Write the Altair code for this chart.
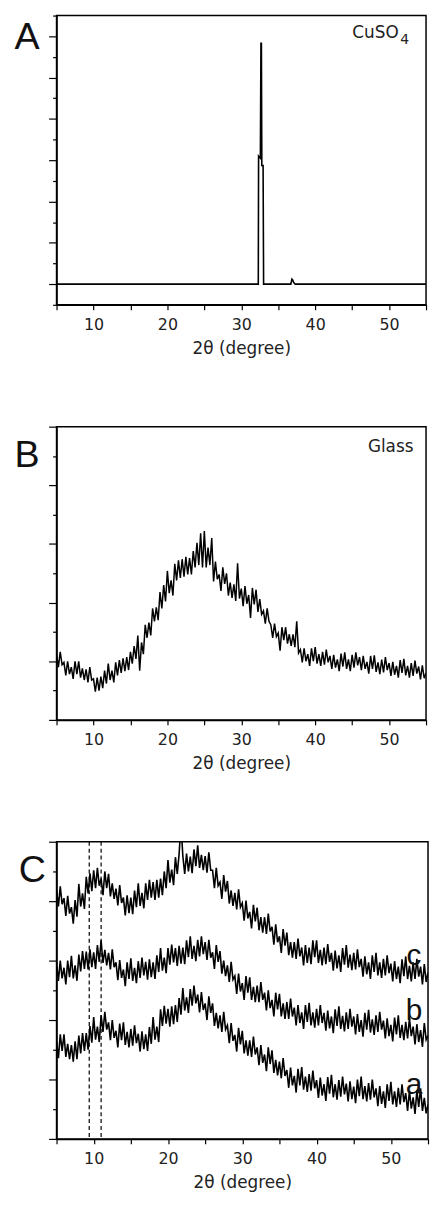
import altair as alt
import pandas as pd

# ---------------- Panel A (CuSO4) ----------------
cuso4_theta = [5.0, 32.30, 32.34, 32.58, 32.66, 32.72, 32.78, 32.95, 33.02, 33.30,
               36.70, 36.85, 36.95, 37.10, 37.30, 55.0]
cuso4_int = [0.0, 0.0, 3.10, 3.05, 5.83, 5.83, 2.87, 2.87, 0.0, 0.0,
             0.0, 0.12, 0.10, 0.04, 0.0, 0.0]

# common 2-theta grid for the scanned patterns (5..55 step 0.25)
theta_grid = [round(5 + 0.25 * i, 2) for i in range(201)]

# ---------------- Panel B (Glass) ----------------
glass = [
    1.12, 0.90, 1.16, 0.94,  0.98, 0.76, 1.00, 0.78,  0.90, 0.70, 1.00, 0.78,
    1.00, 0.72, 0.88, 0.68,  0.86, 0.64, 0.90, 0.68,  0.70, 0.48, 0.72, 0.50,
    0.74, 0.54, 0.84, 0.62,  0.96, 0.68, 0.84, 0.64,  0.98, 0.76, 1.02, 0.80,
    1.05, 0.83, 1.07, 0.85,  1.16, 0.96, 1.26, 1.04,  1.44, 0.84, 1.32, 1.12,
    1.62, 1.40, 1.66, 1.44,  1.90, 1.68, 1.92, 1.70,  2.18, 1.90, 2.30, 2.02,
    2.54, 2.16, 2.38, 2.12,  2.66, 2.38, 2.72, 2.42,  2.74, 2.44, 2.78, 2.48,
    2.76, 2.48, 2.88, 2.60,  3.02, 2.64, 3.18, 2.60,  3.22, 2.60, 2.94, 2.64,
    3.10, 2.36, 2.70, 2.40,  2.48, 2.20, 2.60, 2.32,  2.50, 2.12, 2.34, 2.08,
    2.31, 2.03, 2.67, 2.07,  2.24, 1.94, 2.28, 1.98,  2.13, 1.74, 2.25, 1.97,
    2.22, 1.84, 2.06, 1.80,  1.86, 1.64, 1.90, 1.68,  1.62, 1.40, 1.64, 1.42,
    1.48, 1.18, 1.58, 1.36,  1.58, 1.30, 1.46, 1.26,  1.46, 1.24, 1.68, 1.14,
    1.20, 0.98, 1.22, 1.00,  1.12, 0.92, 1.22, 1.00,  1.24, 0.96, 1.12, 0.92,
    1.16, 0.94, 1.20, 0.98,  1.09, 0.87, 1.11, 0.89,  1.03, 0.83, 1.13, 0.91,
    1.15, 0.87, 1.03, 0.83,  1.11, 0.89, 1.15, 0.93,  1.07, 0.85, 1.09, 0.87,
    0.99, 0.79, 1.09, 0.87,  1.10, 0.82, 0.98, 0.78,  1.03, 0.81, 1.07, 0.85,
    0.97, 0.75, 0.99, 0.77,  0.92, 0.72, 1.02, 0.80,  1.04, 0.76, 0.92, 0.72,
    0.97, 0.75, 1.01, 0.79,  0.91, 0.69, 0.93, 0.71,  0.80,
]

# ---------------- Panel C (three samples) ----------------
sample_c = [
    4.19, 3.91, 4.25, 3.95,  4.05, 3.75, 4.09, 3.79,  3.90, 3.62, 4.02, 3.74,
    4.29, 3.91, 4.13, 3.87,  4.41, 4.13, 4.47, 4.17,  4.52, 4.22, 4.56, 4.26,
    4.38, 4.10, 4.50, 4.22,  4.46, 4.08, 4.30, 4.04,  4.21, 3.93, 4.27, 3.97,
    4.06, 3.76, 4.10, 3.80,  4.06, 3.78, 4.18, 3.90,  4.30, 3.92, 4.14, 3.88,
    4.30, 4.02, 4.36, 4.06,  4.32, 4.02, 4.36, 4.06,  4.38, 4.10, 4.50, 4.22,
    4.69, 4.31, 4.53, 4.27,  4.74, 4.46, 4.80, 5.30,  4.76, 4.46, 4.80, 4.50,
    4.75, 4.47, 4.87, 4.59,  4.94, 4.56, 4.78, 4.52,  4.76, 4.48, 4.82, 4.52,
    4.52, 4.22, 4.56, 4.26,  4.32, 4.04, 4.44, 4.16,  4.34, 3.96, 4.18, 3.92,
    4.14, 3.86, 4.20, 3.90,  3.97, 3.67, 4.01, 3.71,  3.82, 3.54, 3.94, 3.66,
    3.89, 3.51, 3.73, 3.47,  3.73, 3.45, 3.79, 3.49,  3.57, 3.27, 3.61, 3.31,
    3.41, 3.13, 3.53, 3.25,  3.47, 3.09, 3.31, 3.05,  3.31, 3.03, 3.37, 3.07,
    3.22, 2.92, 3.26, 2.96,  3.22, 2.94, 3.34, 3.06,  3.34, 2.96, 3.18, 2.92,
    3.22, 2.94, 3.28, 2.98,  3.13, 2.83, 3.17, 2.87,  3.09, 2.81, 3.21, 2.93,
    3.26, 2.88, 3.10, 2.84,  3.13, 2.85, 3.19, 2.89,  3.03, 2.73, 3.07, 2.77,
    2.97, 2.69, 3.09, 2.81,  3.13, 2.75, 2.97, 2.71,  3.03, 2.75, 3.09, 2.79,
    2.95, 2.65, 2.99, 2.69,  2.90, 2.62, 3.02, 2.74,  3.07, 2.69, 2.91, 2.65,
    2.97, 2.69, 3.03, 2.73,  2.90, 2.60, 2.94, 2.64,  2.80,
]
sample_b = [
    2.96, 2.66, 3.00, 2.70,  2.88, 2.60, 3.00, 2.72,  3.08, 2.70, 2.92, 2.66,
    3.10, 2.82, 3.16, 2.86,  3.15, 2.85, 3.19, 2.89,  3.14, 2.86, 3.26, 2.98,
    3.34, 2.96, 3.18, 2.92,  3.13, 2.85, 3.19, 2.89,  2.97, 2.67, 3.01, 2.71,
    2.85, 2.57, 2.97, 2.69,  3.04, 2.66, 2.88, 2.62,  2.99, 2.71, 3.05, 2.75,
    2.98, 2.68, 3.02, 2.72,  2.97, 2.69, 3.09, 2.81,  3.21, 2.83, 3.05, 2.79,
    3.21, 2.93, 3.27, 2.97,  3.21, 2.91, 3.25, 2.95,  3.22, 2.94, 3.34, 3.06,
    3.41, 3.03, 3.25, 2.99,  3.35, 3.07, 3.41, 3.11,  3.31, 3.01, 3.35, 3.05,
    3.14, 2.86, 3.26, 2.98,  3.16, 2.78, 3.00, 2.74,  2.92, 2.64, 2.98, 2.68,
    2.74, 2.44, 2.78, 2.48,  2.62, 2.34, 2.74, 2.46,  2.72, 2.34, 2.56, 2.30,
    2.58, 2.30, 2.64, 2.34,  2.46, 2.16, 2.50, 2.20,  2.34, 2.06, 2.46, 2.18,
    2.44, 2.06, 2.28, 2.02,  2.30, 2.02, 2.36, 2.06,  2.21, 1.91, 2.25, 1.95,
    2.13, 1.85, 2.25, 1.97,  2.29, 1.91, 2.13, 1.87,  2.19, 1.91, 2.25, 1.95,
    2.12, 1.82, 2.16, 1.86,  2.06, 1.78, 2.18, 1.90,  2.23, 1.85, 2.07, 1.81,
    2.13, 1.85, 2.19, 1.89,  2.06, 1.76, 2.10, 1.80,  2.00, 1.72, 2.12, 1.84,
    2.17, 1.79, 2.01, 1.75,  2.08, 1.80, 2.14, 1.84,  1.99, 1.69, 2.03, 1.73,
    1.92, 1.64, 2.04, 1.76,  2.08, 1.70, 1.92, 1.66,  1.97, 1.69, 2.03, 1.73,
    1.89, 1.59, 1.93, 1.63,  1.83, 1.55, 1.95, 1.67,  1.74,
]
sample_a = [
    1.64, 1.36, 1.76, 1.48,  1.76, 1.38, 1.60, 1.34,  1.58, 1.30, 1.64, 1.34,
    1.74, 1.44, 1.78, 1.48,  1.78, 1.50, 1.90, 1.62,  2.05, 1.67, 1.89, 1.63,
    2.08, 1.80, 2.14, 1.84,  1.96, 1.66, 2.00, 1.70,  1.82, 1.54, 1.94, 1.66,
    1.96, 1.58, 1.80, 1.54,  1.85, 1.57, 1.91, 1.61,  1.77, 1.47, 1.81, 1.51,
    1.76, 1.48, 1.88, 1.60,  2.05, 1.67, 1.89, 1.63,  2.18, 1.90, 2.24, 1.94,
    2.19, 1.89, 2.23, 1.93,  2.25, 1.97, 2.37, 2.09,  2.54, 2.16, 2.38, 2.12,
    2.52, 2.24, 2.58, 2.28,  2.43, 2.13, 2.47, 2.17,  2.28, 2.00, 2.40, 2.12,
    2.28, 1.90, 2.12, 1.86,  2.08, 1.80, 2.14, 1.84,  1.91, 1.61, 1.95, 1.65,
    1.75, 1.47, 1.87, 1.59,  1.82, 1.44, 1.66, 1.40,  1.66, 1.38, 1.72, 1.42,
    1.54, 1.24, 1.58, 1.28,  1.42, 1.14, 1.54, 1.26,  1.49, 1.11, 1.33, 1.07,
    1.30, 1.02, 1.36, 1.06,  1.16, 0.86, 1.20, 0.90,  1.06, 0.78, 1.18, 0.90,
    1.21, 0.83, 1.05, 0.79,  1.09, 0.81, 1.15, 0.85,  0.99, 0.69, 1.03, 0.73,
    0.92, 0.64, 1.04, 0.76,  1.08, 0.70, 0.92, 0.66,  0.99, 0.71, 1.05, 0.75,
    0.93, 0.63, 0.97, 0.67,  0.88, 0.60, 1.00, 0.72,  1.05, 0.67, 0.89, 0.63,
    0.94, 0.66, 1.00, 0.70,  0.85, 0.55, 0.89, 0.59,  0.80, 0.52, 0.92, 0.64,
    0.96, 0.58, 0.80, 0.54,  0.86, 0.58, 0.92, 0.62,  0.77, 0.47, 0.81, 0.51,
    0.70, 0.42, 0.82, 0.54,  0.85, 0.47, 0.69, 0.43,  0.58,
]
dash_theta = [9.4, 11.0]

x_tick_values = [5, 10, 15, 20, 25, 30, 35, 40, 45, 50, 55]

# annotation text (data coordinates)
ann_a = pd.DataFrame({"x": [-0.7], "y": [5.68], "t": ["A"]})
ann_b = pd.DataFrame({"x": [-0.7], "y": [4.31], "t": ["B"]})
ann_c = pd.DataFrame({"x": [-0.1], "y": [4.32], "t": ["C"]})
sample_names = ["c", "b", "a"]
sample_label_y = [2.92, 2.00, 0.76]

FONT = "DejaVu Sans"
TXT = "#222222"


def x_axis():
    return alt.Axis(values=x_tick_values,
                    labelExpr="datum.value % 10 === 0 ? datum.label : ''",
                    title="2θ (degree)", tickSize=5, labelPadding=7,
                    titlePadding=8, labelFlush=False, labelOverlap=False,
                    grid=False, labelFont=FONT, labelFontSize=16, labelColor=TXT,
                    titleFont=FONT, titleFontSize=17, titleFontWeight="normal",
                    titleColor=TXT, domainColor="black", domainWidth=1.5,
                    tickColor="black", tickWidth=1.2)


def y_axis(vals):
    return alt.Axis(values=vals, labels=False, title=None, grid=False,
                    domainColor="black", domainWidth=1.5,
                    tickColor="black", tickWidth=1.2,
                    tickSize={"condition": {"test": "datum.value % 1 === 0", "value": 8},
                              "value": 4})


def xs(field="x"):
    return alt.X(field, type="quantitative",
                 scale=alt.Scale(domain=[5, 55], nice=False, zero=False),
                 axis=x_axis())


def ys(field, dom, vals):
    return alt.Y(field, type="quantitative",
                 scale=alt.Scale(domain=dom, nice=False, zero=False),
                 axis=y_axis(vals))


def letter_layer(df, dom, vals):
    return alt.Chart(df).mark_text(align="left", baseline="alphabetic",
                                   font="Liberation Sans", fontSize=38,
                                   color="#111111").encode(
        x=xs("x"), y=ys("y", dom, vals), text="t:N")


# ----- A -----
domA = [-0.5, 6.5]
valsA = [-0.5 + 0.5 * i for i in range(15)]
dfA = pd.DataFrame({"x": cuso4_theta, "y": cuso4_int})
lineA = alt.Chart(dfA).mark_line(color="black", strokeWidth=1.6, clip=True).encode(
    x=xs("x"), y=ys("y", domA, valsA))
cuA = alt.Chart(pd.DataFrame({"x": [51.3], "y": [5.95], "t": ["CuSO"]})).mark_text(
    align="right", baseline="alphabetic", font=FONT, fontSize=17, color=TXT).encode(
    x=xs("x"), y=ys("y", domA, valsA), text="t:N")
subA = alt.Chart(pd.DataFrame({"x": [51.5], "y": [5.82], "t": ["4"]})).mark_text(
    align="left", baseline="alphabetic", font=FONT, fontSize=14, color=TXT).encode(
    x=xs("x"), y=ys("y", domA, valsA), text="t:N")
panelA = alt.layer(lineA, cuA, subA, letter_layer(ann_a, domA, valsA)).properties(
    width=373, height=292)

# ----- B -----
domB = [0, 5]
valsB = [0.5 * i for i in range(11)]
dfB = pd.DataFrame({"x": theta_grid, "y": glass})
lineB = alt.Chart(dfB).mark_line(color="black", strokeWidth=1.5, clip=True).encode(
    x=xs("x"), y=ys("y", domB, valsB))
glassT = alt.Chart(pd.DataFrame({"x": [53.3], "y": [4.56], "t": ["Glass"]})).mark_text(
    align="right", baseline="alphabetic", font=FONT, fontSize=17, color=TXT).encode(
    x=xs("x"), y=ys("y", domB, valsB), text="t:N")
panelB = alt.layer(lineB, glassT, letter_layer(ann_b, domB, valsB)).properties(
    width=373, height=296)

# ----- C -----
domC = [0, 5]
valsC = [0.5 * i for i in range(11)]
rows = []
for name, series in zip(sample_names, [sample_c, sample_b, sample_a]):
    for t, v in zip(theta_grid, series):
        rows.append({"x": t, "y": v, "s": name})
dfC = pd.DataFrame(rows)
lineC = alt.Chart(dfC).mark_line(color="black", strokeWidth=1.6, clip=True).encode(
    x=xs("x"), y=ys("y", domC, valsC), detail="s:N")
dashC = alt.Chart(pd.DataFrame({"x": dash_theta})).mark_rule(
    color="black", strokeWidth=1.2, strokeDash=[4, 3]).encode(x=xs("x"))
lblC = alt.Chart(pd.DataFrame({"x": [53.1] * 3, "y": sample_label_y, "t": sample_names})).mark_text(
    align="center", baseline="alphabetic", font="Liberation Sans", fontSize=30,
    color="#111111").encode(x=xs("x"), y=ys("y", domC, valsC), text="t:N")
panelC = alt.layer(lineC, dashC, lblC, letter_layer(ann_c, domC, valsC)).properties(
    width=375, height=300)

chart = alt.vconcat(panelA, panelB, panelC, spacing=68).properties(
    padding={"left": 5, "top": 0, "right": 0, "bottom": 0}
).configure_view(stroke="black", strokeWidth=1.5)

chart.save("out.html", embed_options={"renderer": "svg", "actions": False})
